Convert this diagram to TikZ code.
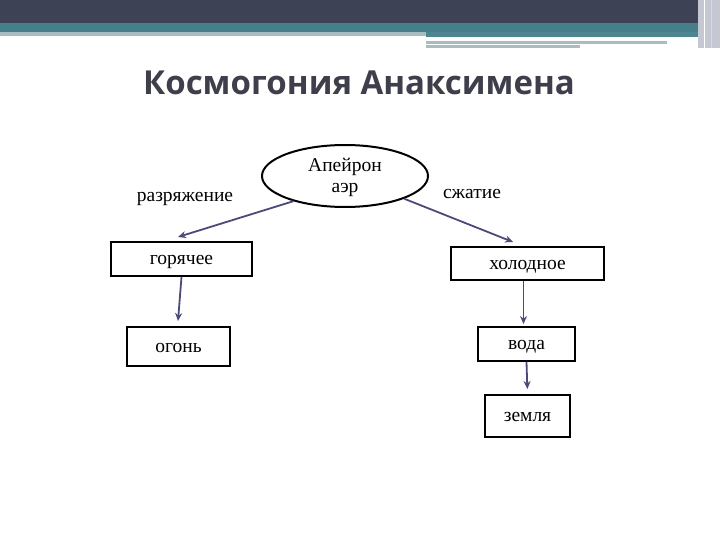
\documentclass[tikz,border=0pt]{standalone}
\usepackage{fontspec}
\setmainfont{Liberation Serif}
\newfontfamily\titlefont{Open Sans}
\usetikzlibrary{shapes.geometric,arrows.meta,calc}
\definecolor{hdrdark}{HTML}{3D4254}
\definecolor{hdrteal}{HTML}{45808A}
\definecolor{hdrteal2}{HTML}{4E8690}
\definecolor{hdrgray}{HTML}{A9BCC0}
\definecolor{hdrside}{HTML}{C5C8D2}
\definecolor{titlecol}{HTML}{3F3F4B}
\definecolor{arrowcol}{HTML}{4B4A7B}
\tikzset{
  box/.style={draw=black,line width=2pt,rectangle,inner sep=0pt,text height=11pt,text depth=0pt,font=\fontsize{19.5}{21}\selectfont},
  lbl/.style={inner sep=0pt,anchor=base,font=\fontsize{19.5}{21}\selectfont},
  arr/.style={draw=arrowcol,line width=1.8pt,-{Stealth[length=8pt,width=7pt]}}
}
\begin{document}
\begin{tikzpicture}[x=1pt,y=-1pt]
\useasboundingbox (0,0) rectangle (720,540);
\fill[white] (0,0) rectangle (720,540);
% header
\fill[hdrdark] (0,0) rectangle (698,23);
\fill[hdrteal] (0,23) rectangle (698,32);
\fill[hdrgray] (0,32) rectangle (426,36);
\fill[hdrteal2] (426,32) rectangle (698,37);
\fill[hdrgray] (426,41) rectangle (667,44);
\fill[hdrgray] (426,45) rectangle (580,48);
\fill[hdrside] (698,0) rectangle (720,48);
\draw[white,line width=1pt] (704,0) -- (704,48);
\draw[white!70!gray,line width=1pt] (711,0) -- (711,48);
% title
\node[inner sep=0pt,anchor=base,text=titlecol,font=\titlefont\bfseries\fontsize{33}{36}\selectfont] (title) at (359,95) {Космогония Анаксимена};
% ellipse
\node[draw=black,line width=2pt,ellipse,minimum width=166pt,minimum height=62pt,inner sep=0pt] (aper) at (345,176) {};
\node[lbl] (aper1) at (345,172) {Апейрон};
\node[lbl] (aper2) at (345,193) {аэр};
% side labels
\node[lbl] (rar) at (185,202) {разряжение};
\node[lbl] (comp) at (472,199) {сжатие};
% boxes
\node[box,minimum width=141pt,minimum height=34pt] (hot) at (181.5,259) {горячее};
\node[box,minimum width=103pt,minimum height=39pt] (fire) at (178.5,346.5) {огонь};
\node[box,minimum width=153pt,minimum height=33pt] (cold) at (527.5,263.5) {холодное};
\node[box,minimum width=97pt,minimum height=34pt] (water) at (526.5,344) {вода};
\node[box,minimum width=85pt,minimum height=42pt] (earth) at (527.5,416) {земля};
% arrow ends
\coordinate (e1) at (178,237);
\coordinate (e2) at (513,242);
\coordinate (e3) at (178,321);
% connectors
\draw[arr] (aper.206) -- (e1);
\draw[arr] (aper.339) -- (e2);
\draw[arr] (hot.south) -- (e3);
\draw[arr,shorten >=2pt] ($(cold.south)+(-4,0)$) -- ($(water.north)+(-3,0)$);
\draw[arr,shorten >=5pt] (water.south) -- (earth.north);
\end{tikzpicture}
\end{document}
